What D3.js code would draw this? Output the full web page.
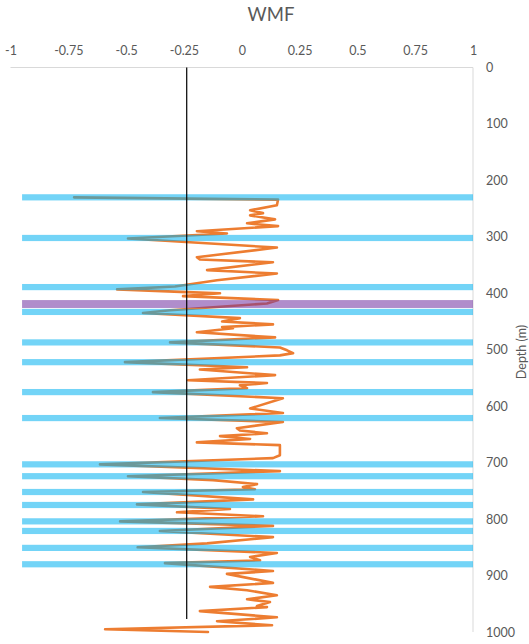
<!DOCTYPE html>
<html><head><meta charset="utf-8">
<script src="https://cdn.jsdelivr.net/npm/d3@7"></script>
<style>body{margin:0;background:#fff;} svg{display:block;font-family:Lato,"Open Sans",sans-serif;}</style>
</head><body>
<svg id="c" width="529" height="644"></svg>
<script>
const xTicks = [-1,-0.75,-0.5,-0.25,0,0.25,0.5,0.75,1];
const xTickLabels = ["-1","-0.75","-0.5","-0.25","0","0.25","0.5","0.75","1"];
const yTicks = [0,100,200,300,400,500,600,700,800,900,1000];
const depth = [230,234,244,253,258,262,269,276,281,290,294,303,319,336,340,345,359,365,377,388,393,398,400,405,412,418,430,435,444,450,455,460,462,469,478,487,496,501,506,510,522,531,535,545,554,559,563,568,575,586,604,612,621,628,639,643,648,653,658,664,669,687,692,703,715,724,731,738,743,747,752,765,774,782,788,795,804,812,821,832,843,850,860,867,873,878,892,897,913,920,926,935,942,947,954,956,963,974,981,988,995,1000];
const wmf = [-0.725,0.157,0.152,0.036,0.092,0.036,0.144,0.023,0.157,-0.194,-0.064,-0.492,0.152,-0.194,-0.181,0.135,-0.150,0.152,-0.107,-0.289,-0.539,-0.237,-0.094,-0.254,0.157,0.109,-0.310,-0.427,-0.008,-0.085,0.135,-0.085,-0.038,-0.194,0.144,-0.310,0.165,0.196,0.222,0.165,-0.505,0.023,-0.181,0.144,-0.232,0.109,-0.008,0.023,-0.384,0.178,0.036,0.178,-0.354,0.178,-0.021,-0.008,0.109,-0.094,0.036,-0.194,0.165,0.165,0.135,-0.613,0.165,-0.492,-0.124,0.066,0.005,0.057,-0.427,0.049,-0.453,-0.051,-0.280,0.092,-0.526,0.135,-0.354,0.135,-0.150,-0.450,0.152,0.036,0.079,-0.332,0.135,-0.064,0.135,-0.137,0.023,0.152,0.023,0.122,0.066,0.109,-0.181,0.152,-0.107,0.131,-0.591,-0.146];
const blueBands = [230,302,389,433,487,522,575,621,703,724,752,775,804,821,851,880];
const purpleBands = [419];
const bandStart = -0.95, bandEnd = 1;
const refLineX = -0.238, refLineDepth = [0, 977];

const svg = d3.select("#c");
const x = d3.scaleLinear().domain([-1,1]).range([10.5,473]);
const y = d3.scaleLinear().domain([0,1000]).range([67.5,632]);
const textCol = "#595959";

// axes lines
svg.append("line").attr("x1",x(-1)).attr("x2",x(1)).attr("y1",y(0)).attr("y2",y(0))
  .attr("stroke","#d9d9d9").attr("stroke-width",1);
svg.append("line").attr("x1",x(1)).attr("x2",x(1)).attr("y1",y(0)).attr("y2",y(1000))
  .attr("stroke","#d9d9d9").attr("stroke-width",1);

// top axis labels
const xAxis = d3.axisTop(x).tickValues(xTicks).tickSize(0).tickPadding(0)
  .tickFormat((d,i) => xTickLabels[i]);
const gx = svg.append("g").attr("transform",`translate(0,${y(0)-13})`).call(xAxis);
gx.select(".domain").remove();
gx.selectAll("text").attr("fill",textCol).attr("font-size",12.5).attr("font-family","Lato,'Open Sans',sans-serif");

// right axis labels
const yAxis = d3.axisRight(y).tickValues(yTicks).tickSize(0).tickPadding(0).tickFormat(d3.format("d"));
const gy = svg.append("g").attr("transform",`translate(${x(1)+13},0)`).call(yAxis);
gy.select(".domain").remove();
gy.selectAll("text").attr("fill",textCol).attr("font-size",12.5).attr("font-family","Lato,'Open Sans',sans-serif");

// data line
const line = d3.line().x(d => x(d[1])).y(d => y(d[0]));
svg.append("path").datum(depth.map((d,i)=>[d,wmf[i]]))
  .attr("d",line).attr("fill","none").attr("stroke","#ED7D31").attr("stroke-width",2.6)
  .attr("stroke-linejoin","round").attr("stroke-linecap","round");

// bands
const bh = 11;
svg.selectAll("rect.blue").data(blueBands).join("rect").attr("class","blue")
  .attr("x",x(bandStart)).attr("width",x(bandEnd)-x(bandStart))
  .attr("y",d => y(d - bh/2)).attr("height",d => y(d+bh/2)-y(d-bh/2))
  .attr("fill","#00B0F0").attr("opacity",0.55);
const ph = 14;
svg.selectAll("rect.purple").data(purpleBands).join("rect").attr("class","purple")
  .attr("x",x(bandStart)).attr("width",x(bandEnd)-x(bandStart))
  .attr("y",d => y(d - ph/2)).attr("height",d => y(d+ph/2)-y(d-ph/2))
  .attr("fill","#7030A0").attr("opacity",0.55);

// reference vertical line
svg.append("line").attr("x1",x(refLineX)).attr("x2",x(refLineX))
  .attr("y1",y(refLineDepth[0])).attr("y2",y(refLineDepth[1]))
  .attr("stroke","#000").attr("stroke-width",1.2);

// title
svg.append("text").attr("x",271).attr("y",21).attr("text-anchor","middle")
  .attr("font-size",18.5).attr("fill",textCol).text("WMF");

// y label
svg.append("text").attr("transform","translate(526,352) rotate(-90)").attr("text-anchor","middle")
  .attr("font-size",12.5).attr("fill",textCol).text("Depth (m)");
</script>
</body></html>
